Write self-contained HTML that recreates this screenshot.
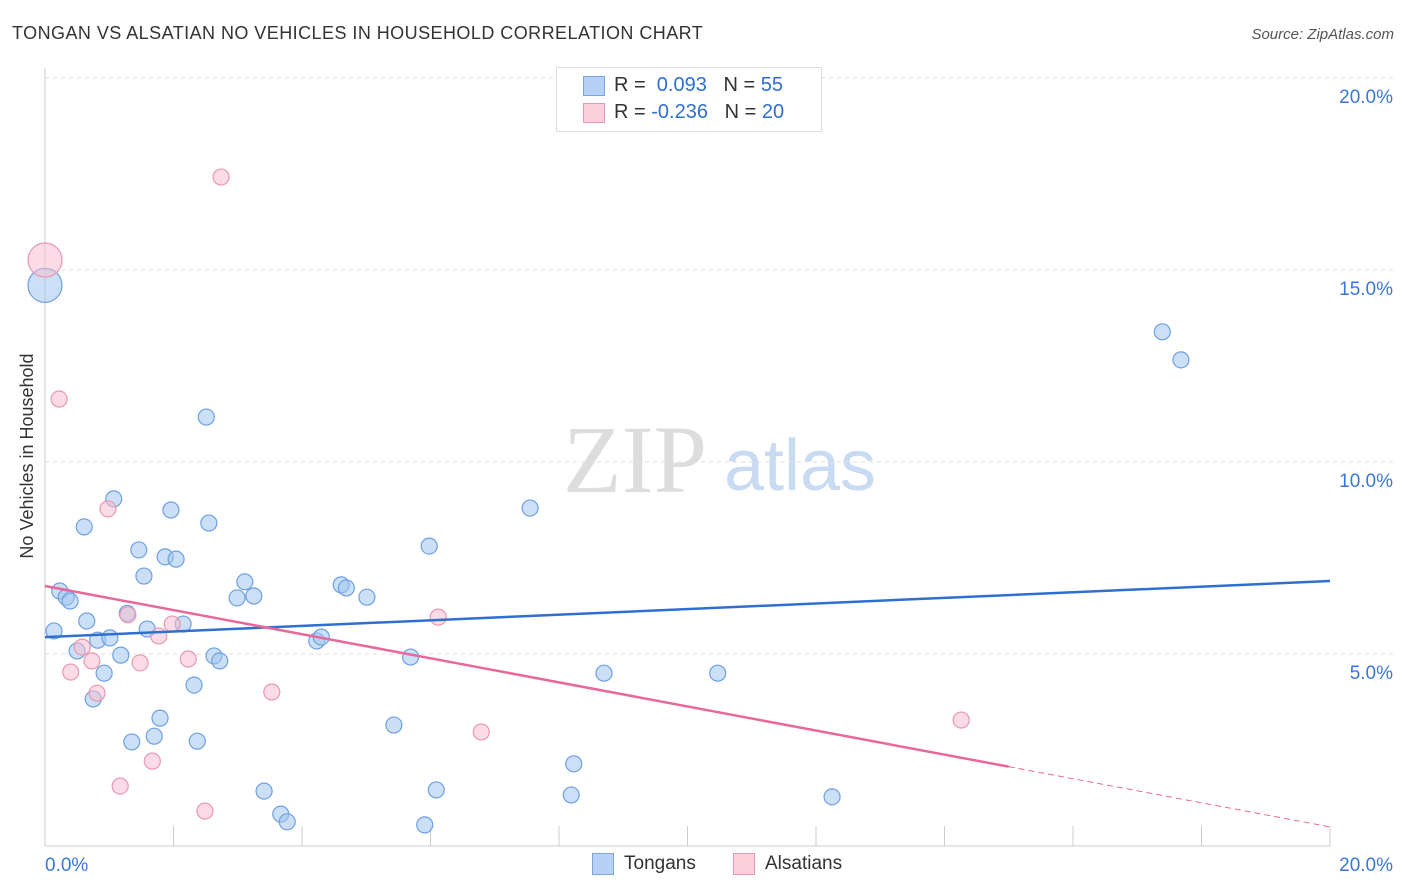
<!DOCTYPE html>
<html><head><meta charset="utf-8"><style>
body{margin:0;background:#fff;font-family:"Liberation Sans",sans-serif}
#wrap{position:relative;width:1406px;height:892px;overflow:hidden}
</style></head><body>
<div id="wrap">
<svg id="svg" width="1406" height="892" xmlns="http://www.w3.org/2000/svg">
<text x="12" y="39" font-size="18" fill="#333" letter-spacing="0.45">TONGAN VS ALSATIAN NO VEHICLES IN HOUSEHOLD CORRELATION CHART</text>
<text x="1394" y="39" font-size="15" fill="#555" font-style="italic" text-anchor="end">Source: ZipAtlas.com</text>
<text x="33" y="456" font-size="18" fill="#333" text-anchor="middle" transform="rotate(-90 33 456)">No Vehicles in Household</text>
<text x="635" y="492" font-size="96" fill="#ddd" text-anchor="middle" font-family="Liberation Serif">ZIP</text>
<text x="800" y="490" font-size="72" fill="#c9dbf2" text-anchor="middle">atlas</text>
<g id="grid"></g><g id="pts"></g><g id="lines"></g>
</svg>
<div style="position:absolute;left:556px;top:67px;width:264px;height:63px;border:1px solid #ddd;background:#fff;font-size:20px;color:#333">
<div style="position:absolute;left:26px;top:8px;width:20px;height:18px;background:#b7d1f5;border:1px solid #7aa6e0"></div>
<div style="position:absolute;left:57px;top:6px">R = &nbsp;<span style="color:#2f6fd0">0.093</span> &nbsp;&nbsp;N = <span style="color:#2f6fd0">55</span></div>
<div style="position:absolute;left:26px;top:35px;width:20px;height:18px;background:#fbcfdc;border:1px solid #e898b0"></div>
<div style="position:absolute;left:57px;top:33px">R = <span style="color:#2f6fd0">-0.236</span> &nbsp;&nbsp;N = <span style="color:#2f6fd0">20</span></div>
</div>
<div style="position:absolute;left:592px;top:853px;width:20px;height:20px;background:#b7d1f5;border:1px solid #7aa6e0"></div>
<div style="position:absolute;left:624px;top:853px;font-size:19px;color:#333">Tongans</div>
<div style="position:absolute;left:733px;top:853px;width:20px;height:20px;background:#fbcfdc;border:1px solid #e898b0"></div>
<div style="position:absolute;left:765px;top:853px;font-size:19px;color:#333">Alsatians</div>
</div>
<script>
const yTicks=[5,10,15,20];
const yTickLabels=["5.0%","10.0%","15.0%","20.0%"];
const tongX=[0,0.14,0.23,0.33,0.39,0.61,0.65,0.5,0.82,1.01,0.92,0.75,1.07,1.18,1.28,1.35,1.46,1.54,1.59,1.70,1.79,1.87,1.96,2.04,2.15,2.32,2.37,2.51,2.55,2.63,2.72,2.99,3.11,3.25,3.41,3.67,3.77,4.23,4.30,4.61,4.69,5.01,5.43,5.69,5.98,5.91,6.09,7.55,8.23,8.19,8.70,10.47,12.25,17.39,17.68];
const tongY=[14.6,5.6,6.64,6.48,6.38,8.31,5.86,5.08,5.36,5.42,4.5,3.83,9.04,4.97,6.06,2.71,7.71,7.03,5.65,2.86,3.33,7.53,8.75,7.47,5.78,4.19,2.73,11.17,8.41,4.95,4.82,6.46,6.88,6.51,1.43,0.83,0.63,5.34,5.44,6.8,6.72,6.48,3.15,4.92,7.81,0.55,1.46,8.8,2.14,1.33,4.5,4.5,1.28,13.39,12.66];
const alsX=[0,0.22,0.40,0.58,0.73,0.81,0.98,1.29,1.17,1.48,1.67,1.77,1.98,2.23,2.49,2.74,3.53,6.12,6.79,14.26];
const alsY=[15.26,11.64,4.53,5.18,4.82,3.98,8.78,6.02,1.56,4.77,2.21,5.47,5.78,4.87,0.91,17.42,4.01,5.96,2.97,3.28];
const tongLine=[5.44,6.9]; // y at x=0 and x=20
const alsLine=[6.77,-0.3136]; // intercept, slope
const NS="http://www.w3.org/2000/svg";
const X=v=>45+v*64.25, Y=v=>846-v*38.4;
function mk(t,a,p){const e=document.createElementNS(NS,t);for(const k in a)e.setAttribute(k,a[k]);p.appendChild(e);return e;}
const g=document.getElementById('grid');
yTicks.forEach((t,i)=>{
 const l=mk('line',{x1:45,x2:1395,y1:Y(t),y2:Y(t),stroke:'#ddd','stroke-dasharray':'4,4'},g);
 
 
 const tx=mk('text',{x:1393,y:Y(t)+25,'font-size':19,fill:'#3a78d8','text-anchor':'end'},g);
 tx.textContent=yTickLabels[i];
 
 
});
let ax=mk('line',{x1:45,x2:45,y1:68,y2:846,stroke:'#ccc'},g);


ax=mk('line',{x1:45,x2:1330,y1:846,y2:846,stroke:'#ccc'},g);


for(let i=0;i<=10;i++){const t=mk('line',{x1:X(i*2),x2:X(i*2),y1:826,y2:846,stroke:'#ccc'},g);
 
 }
let xl=mk('text',{x:45,y:871,'font-size':19,fill:'#3a78d8'},g);xl.textContent="0.0%";


xl=mk('text',{x:1393,y:871,'font-size':19,fill:'#3a78d8','text-anchor':'end'},g);xl.textContent="20.0%";


const p=document.getElementById('pts');
function pts(xs,ys,fill,stroke,name){xs.forEach((x,i)=>{const c=mk('circle',{cx:X(x),cy:Y(ys[i]),r:x===0?17:8,fill:fill,stroke:stroke,'stroke-width':1.2},p);
 
 });}
pts(tongX,tongY,'rgba(160,196,240,0.55)','#6fa0e0','tongan-point');
pts(alsX,alsY,'rgba(248,190,208,0.55)','#e898b0','alsatian-point');
const L=document.getElementById('lines');
let ln=mk('line',{x1:X(0),y1:Y(tongLine[0]),x2:X(20),y2:Y(tongLine[1]),stroke:'#2f6fd0','stroke-width':2.5},L);


ln=mk('line',{x1:X(0),y1:Y(alsLine[0]),x2:X(15),y2:Y(alsLine[0]+alsLine[1]*15),stroke:'#e8689a','stroke-width':2.5},L);


ln=mk('line',{x1:X(15),y1:Y(alsLine[0]+alsLine[1]*15),x2:X(20),y2:Y(alsLine[0]+alsLine[1]*20),stroke:'#e8689a','stroke-width':1,'stroke-dasharray':'6,4'},L);


</script>
</body></html>
